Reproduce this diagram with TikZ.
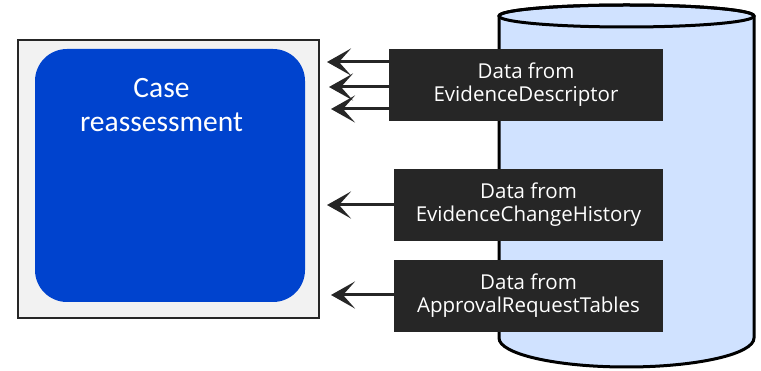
\documentclass[tikz,border=0pt]{standalone}
\usepackage{fontspec}
\setmainfont{Open Sans}
\newfontfamily\casefont{Carlito}
\usetikzlibrary{arrows.meta}
\definecolor{outerfill}{HTML}{F2F2F2}
\definecolor{outerline}{HTML}{262626}
\definecolor{caseblue}{HTML}{0043CE}
\definecolor{dbfill}{HTML}{D0E2FF}
\definecolor{darkbox}{HTML}{262626}
\tikzset{
  x=1pt, y=-1pt,
  databox/.style={fill=darkbox, text=white, inner sep=0pt, align=center, font=\fontsize{20.5}{23}\selectfont},
  flow/.style={draw=darkbox, line width=3pt, -{Stealth[length=24pt,width=27pt,inset=12pt]}},
}
\begin{document}
\begin{tikzpicture}
\useasboundingbox (0,0) rectangle (761,371);
% outer frame
\node[draw=outerline, fill=outerfill, line width=2.5pt, minimum width=301pt, minimum height=278pt, inner sep=0pt] (frame) at (168.5,179) {};
\node[fill=caseblue, rounded corners=32pt, minimum width=270pt, minimum height=253pt, inner sep=0pt] (case) at (170,175.5) {};
\node[text=white, align=center, font=\casefont\fontsize{29.5}{34}\selectfont] (casetext) at (161.5,105) {Case\\reassessment};
% database cylinder
\draw[fill=dbfill, line width=3pt] (499,16) -- (499,338) arc[start angle=180, end angle=360, x radius=127.5pt, y radius=29pt] -- (754,16) arc[start angle=0, end angle=180, x radius=127.5pt, y radius=11pt] -- cycle;
\draw[line width=3pt] (626.5,16) ellipse[x radius=127.5pt, y radius=11pt];
% data boxes
\node[databox, minimum width=274pt, minimum height=72pt] (d1) at (526,85) {Data from\\EvidenceDescriptor};
\node[databox, minimum width=269pt, minimum height=72pt] (d2) at (528.5,205) {Data from\\EvidenceChangeHistory};
\node[databox, minimum width=269pt, minimum height=72pt] (d3) at (528.5,296) {Data from\\ApprovalRequestTables};
% arrows
\coordinate (t1) at (327,62);
\coordinate (t2) at (329,87);
\coordinate (t3) at (331,109);
\coordinate (t4) at (327,205);
\coordinate (t5) at (331,295);
\draw[flow] (d1.west |- t1) -- (t1);
\draw[flow] (d1.west |- t2) -- (t2);
\draw[flow] (d1.west |- t3) -- (t3);
\draw[flow] (d2.west |- t4) -- (t4);
\draw[flow] (d3.west |- t5) -- (t5);
\end{tikzpicture}
\end{document}
